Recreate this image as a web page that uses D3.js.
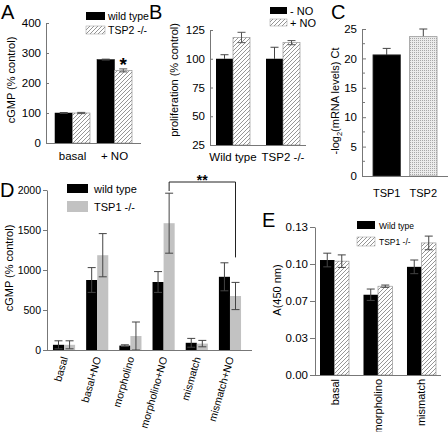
<!DOCTYPE html>
<html><head><meta charset="utf-8">
<script src="https://cdn.jsdelivr.net/npm/d3@7"></script>
<style>body{margin:0;background:#fff}svg{display:block}text{font-family:"Liberation Sans",Arial,sans-serif}</style>
</head><body>
<script>
// ---- Panel A ----
const catsA = ["basal", "+ NO"];
const aWild = [100, 278];
const aWildErr = [1.5, 1.5];
const aTsp2 = [100, 242];
const aTsp2Err = [2, 5];
const ticksA = [0, 100, 200, 300, 400];
// ---- Panel B ----
const catsB = ["Wild type", "TSP2 -/-"];
const bMinusNO = [100, 100];
const bMinusErr = [3.5, 10];
const bPlusNO = [118.5, 114];
const bPlusErr = [4.5, 1.8];
const ticksB = [25, 50, 75, 100, 125];
// ---- Panel C ----
const catsC = ["TSP1", "TSP2"];
const cVals = [20.6, 23.7];
const cErr = [1.1, 1.3];
const ticksC = [0, 5, 10, 15, 20, 25];
const minorC = [2.5, 7.5, 12.5, 17.5, 22.5];
// ---- Panel D ----
const catsD = ["basal", "basal+NO", "morpholino", "morpholino+NO", "mismatch", "mismatch+NO"];
const dWild = [65, 875, 55, 850, 90, 915];
const dWildErr = [50, 155, 10, 130, 55, 175];
const dTsp1 = [65, 1185, 175, 1585, 80, 675];
const dTsp1Err = [50, 270, 175, 375, 40, 170];
const ticksD = [0, 500, 1000, 1500, 2000];
// ---- Panel E ----
const catsE = ["basal", "morpholino", "mismatch"];
const eWild = [0.101, 0.0705, 0.095];
const eWildErr = [0.006, 0.005, 0.006];
const eTsp1 = [0.100, 0.078, 0.116];
const eTsp1Err = [0.0055, 0.001, 0.006];
const ticksE = [0, 0.0325, 0.065, 0.0975, 0.13];

const svg = d3.select("body").append("svg").attr("width", 448).attr("height", 432);
const defs = svg.append("defs");
const hatch = defs.append("pattern").attr("id", "hatch").attr("patternUnits", "userSpaceOnUse")
  .attr("width", 4).attr("height", 4);
hatch.append("rect").attr("width", 4).attr("height", 4).attr("fill", "#fff");
hatch.append("path").attr("d", "M-1,1 l2,-2 M0,4 l4,-4 M3,5 l2,-2").attr("stroke", "#7a7a7a").attr("stroke-width", 0.8);
const dots = defs.append("pattern").attr("id", "dots").attr("patternUnits", "userSpaceOnUse")
  .attr("width", 2).attr("height", 2);
dots.append("rect").attr("width", 2).attr("height", 2).attr("fill", "#ececec");
dots.append("rect").attr("width", 1).attr("height", 1).attr("fill", "#a8a8a8");

const AX = "#777";
const FONT = 11.5;
const LFONT = 11;

function styleAxis(g, fs) {
  g.select(".domain").attr("stroke", AX);
  g.selectAll(".tick line").attr("stroke", AX);
  g.selectAll(".tick text").attr("fill", "#000").attr("font-size", fs || FONT)
    .attr("font-family", "Liberation Sans, Arial, sans-serif");
}

function errBar(g, cx, yScale, v, e, upOnly, color) {
  const top = yScale(v + e), bot = upOnly ? yScale(v) : yScale(v - e);
  g.append("line").attr("x1", cx).attr("x2", cx).attr("y1", top).attr("y2", bot).attr("stroke", color).attr("stroke-width", 1);
  g.append("line").attr("x1", cx - 4).attr("x2", cx + 4).attr("y1", top).attr("y2", top).attr("stroke", color).attr("stroke-width", 1);
  if (!upOnly) g.append("line").attr("x1", cx - 4).attr("x2", cx + 4).attr("y1", bot).attr("y2", bot).attr("stroke", color).attr("stroke-width", 1);
}

function panelLetter(t, x, y, size) {
  svg.append("text").attr("x", x).attr("y", y).attr("font-size", size || 20).text(t);
}
function yLabel(x, y, txt, size) {
  return svg.append("text").attr("transform", `translate(${x},${y}) rotate(-90)`)
    .attr("text-anchor", "middle").attr("font-size", size || LFONT).text(txt);
}

// ================= Panel A =================
{
  const x0 = d3.scaleBand().domain(catsA).range([46, 141]).paddingInner(0.167).paddingOuter(0.214);
  const x1 = d3.scaleBand().domain(["wt", "ko"]).range([0, x0.bandwidth()]);
  const y = d3.scaleLinear().domain([0, 400]).range([143, 23]);
  const g = svg.append("g");
  catsA.forEach((c, i) => {
    const bx = x0(c);
    g.append("rect").attr("x", bx + x1("wt")).attr("y", y(aWild[i])).attr("width", x1.bandwidth())
      .attr("height", y(0) - y(aWild[i])).attr("fill", "#000").attr("stroke", "#000").attr("stroke-width", 0.5);
    g.append("rect").attr("x", bx + x1("ko")).attr("y", y(aTsp2[i])).attr("width", x1.bandwidth())
      .attr("height", y(0) - y(aTsp2[i])).attr("fill", "url(#hatch)").attr("stroke", "#888").attr("stroke-width", 0.6);
    errBar(g, bx + x1("wt") + x1.bandwidth() / 2, y, aWild[i], aWildErr[i], false, "#444");
    errBar(g, bx + x1("ko") + x1.bandwidth() / 2, y, aTsp2[i], aTsp2Err[i], false, "#555");
  });
  const ya = svg.append("g").attr("transform", "translate(46,0)")
    .call(d3.axisLeft(y).tickValues(ticksA).tickFormat(d3.format("d")).tickSizeInner(-3).tickSizeOuter(0).tickPadding(5));
  styleAxis(ya);
  svg.append("line").attr("x1", 46).attr("x2", 141).attr("y1", 143.5).attr("y2", 143.5).attr("stroke", AX);
  catsA.forEach(c => svg.append("text").attr("x", x0(c) + x0.bandwidth() / 2).attr("y", 160)
    .attr("text-anchor", "middle").attr("font-size", FONT).text(c));
  svg.append("text").attr("x", x0("+ NO") + x1("ko") + x1.bandwidth() / 2).attr("y", y(aTsp2[1] + aTsp2Err[1]) + 2)
    .attr("text-anchor", "middle").attr("font-size", 19).attr("font-weight", "bold").text("*");
  // legend
  svg.append("rect").attr("x", 86).attr("y", 12).attr("width", 19).attr("height", 8).attr("fill", "#000");
  svg.append("text").attr("x", 108).attr("y", 20).attr("font-size", 10.5).text("wild type");
  svg.append("rect").attr("x", 86).attr("y", 26).attr("width", 19).attr("height", 8).attr("fill", "url(#hatch)").attr("stroke", "#999").attr("stroke-width", 0.5);
  svg.append("text").attr("x", 108).attr("y", 34).attr("font-size", 10.5).text("TSP2 -/-");
  yLabel(15, 80, "cGMP (% control)");
  panelLetter("A", 1, 19);
}

// ================= Panel B =================
{
  const x0 = d3.scaleBand().domain(catsB).range([210, 306]).paddingInner(0.32).paddingOuter(0.12);
  const x1 = d3.scaleBand().domain(["m", "p"]).range([0, x0.bandwidth()]);
  const y = d3.scaleLinear().domain([25, 125]).range([145, 30]);
  const g = svg.append("g");
  catsB.forEach((c, i) => {
    const bx = x0(c);
    errBar(g, bx + x1("m") + x1.bandwidth() / 2, y, bMinusNO[i], bMinusErr[i], true, "#444");
    g.append("rect").attr("x", bx + x1("m")).attr("y", y(bMinusNO[i])).attr("width", x1.bandwidth())
      .attr("height", y(25) - y(bMinusNO[i])).attr("fill", "#000");
    g.append("rect").attr("x", bx + x1("p")).attr("y", y(bPlusNO[i])).attr("width", x1.bandwidth())
      .attr("height", y(25) - y(bPlusNO[i])).attr("fill", "url(#hatch)").attr("stroke", "#888").attr("stroke-width", 0.6);
    errBar(g, bx + x1("p") + x1.bandwidth() / 2, y, bPlusNO[i], bPlusErr[i], false, "#555");
  });
  const ya = svg.append("g").attr("transform", "translate(210,0)")
    .call(d3.axisLeft(y).tickValues(ticksB).tickFormat(d3.format("d")).tickSizeInner(-3).tickSizeOuter(0).tickPadding(5));
  styleAxis(ya);
  svg.append("line").attr("x1", 210).attr("x2", 306).attr("y1", 145.5).attr("y2", 145.5).attr("stroke", AX);
  catsB.forEach(c => svg.append("text").attr("x", x0(c) + x0.bandwidth() / 2).attr("y", 161)
    .attr("text-anchor", "middle").attr("font-size", FONT).text(c));
  svg.append("rect").attr("x", 270).attr("y", 7).attr("width", 17).attr("height", 7).attr("fill", "#000");
  svg.append("text").attr("x", 290).attr("y", 15).attr("font-size", LFONT).text("- NO");
  svg.append("rect").attr("x", 270).attr("y", 19).attr("width", 17).attr("height", 7).attr("fill", "url(#hatch)").attr("stroke", "#999").attr("stroke-width", 0.5);
  svg.append("text").attr("x", 290).attr("y", 27).attr("font-size", LFONT).text("+ NO");
  yLabel(178, 80, "proliferation (% control)");
  panelLetter("B", 149, 19);
}

// ================= Panel C =================
{
  const x = d3.scaleBand().domain(catsC).range([362, 448]).paddingInner(0.25).paddingOuter(0.3);
  const y = d3.scaleLinear().domain([0, 25]).range([176, 29]);
  const g = svg.append("g");
  catsC.forEach((c, i) => {
    errBar(g, x(c) + x.bandwidth() / 2, y, cVals[i], cErr[i], true, "#444");
    g.append("rect").attr("x", x(c)).attr("y", y(cVals[i])).attr("width", x.bandwidth())
      .attr("height", y(0) - y(cVals[i])).attr("fill", i === 0 ? "#000" : "url(#dots)")
      .attr("stroke", i === 0 ? "#333" : "#999").attr("stroke-width", 0.8);
  });
  const ya = svg.append("g").attr("transform", "translate(362,0)")
    .call(d3.axisLeft(y).tickValues(ticksC).tickFormat(d3.format("d")).tickSizeInner(-4).tickSizeOuter(0).tickPadding(5));
  styleAxis(ya);
  minorC.forEach(v => svg.append("line").attr("x1", 362).attr("x2", 365).attr("y1", y(v)).attr("y2", y(v)).attr("stroke", AX));
  svg.append("line").attr("x1", 362).attr("x2", 448).attr("y1", 176.5).attr("y2", 176.5).attr("stroke", AX);
  catsC.forEach(c => svg.append("text").attr("x", x(c) + x.bandwidth() / 2).attr("y", 197)
    .attr("text-anchor", "middle").attr("font-size", 11).text(c));
  const t = svg.append("text").attr("transform", "translate(339,101) rotate(-90)").attr("text-anchor", "middle").attr("font-size", LFONT);
  t.append("tspan").text("-log");
  t.append("tspan").attr("font-size", 7.5).attr("dy", 3).text("2");
  t.append("tspan").attr("dy", -3).text("(mRNA levels) Ct");
  panelLetter("C", 331, 19);
}

// ================= Panel D =================
{
  const AXD = 47;
  const x0 = d3.scaleBand().domain(catsD).range([44, 250]).paddingInner(0.333).paddingOuter(0.27);
  const x1 = d3.scaleBand().domain(["wt", "ko"]).range([0, x0.bandwidth()]);
  const y = d3.scaleLinear().domain([0, 2000]).range([350, 190]);
  const g = svg.append("g");
  catsD.forEach((c, i) => {
    const bx = x0(c);
    g.append("rect").attr("x", bx + x1("wt")).attr("y", y(dWild[i])).attr("width", x1.bandwidth())
      .attr("height", y(0) - y(dWild[i])).attr("fill", "#000");
    g.append("rect").attr("x", bx + x1("ko")).attr("y", y(dTsp1[i])).attr("width", x1.bandwidth())
      .attr("height", y(0) - y(dTsp1[i])).attr("fill", "#c2c2c2");
    errBar(g, bx + x1("wt") + x1.bandwidth() / 2, y, dWild[i], dWildErr[i], false, "#444");
    errBar(g, bx + x1("ko") + x1.bandwidth() / 2, y, dTsp1[i], dTsp1Err[i], false, "#444");
  });
  const ya = svg.append("g").attr("transform", `translate(${AXD},0)`)
    .call(d3.axisLeft(y).tickValues(ticksD).tickFormat(d3.format("d")).tickSizeInner(4).tickSizeOuter(0).tickPadding(2));
  styleAxis(ya, 10.5);
  svg.append("line").attr("x1", AXD).attr("x2", 252).attr("y1", 350.5).attr("y2", 350.5).attr("stroke", AX);
  catsD.forEach(c => svg.append("text")
    .attr("transform", `translate(${x0(c) + x0.bandwidth() / 2 + 4},${358}) rotate(-74)`)
    .attr("text-anchor", "end").attr("font-size", 10.5).text(c));
  // significance bracket
  const lx = x0("morpholino+NO") + x1("ko") + x1.bandwidth() / 2;
  const rx = x0("mismatch+NO") + x1("ko") + x1.bandwidth() / 2;
  svg.append("path").attr("d", `M${lx},${191} V182 H${rx} V${y(dTsp1[5] + dTsp1Err[5]) - 25}`)
    .attr("fill", "none").attr("stroke", "#222").attr("stroke-width", 1);
  svg.append("text").attr("x", (lx + rx) / 2).attr("y", 185).attr("text-anchor", "middle")
    .attr("font-size", 14).attr("font-weight", "bold").text("**");
  svg.append("rect").attr("x", 67).attr("y", 184).attr("width", 21).attr("height", 9).attr("fill", "#000");
  svg.append("text").attr("x", 94).attr("y", 193).attr("font-size", LFONT).text("wild type");
  svg.append("rect").attr("x", 67).attr("y", 201).attr("width", 21).attr("height", 11).attr("fill", "#c2c2c2");
  svg.append("text").attr("x", 94).attr("y", 211).attr("font-size", LFONT).text("TSP1 -/-");
  yLabel(13, 268, "cGMP (% control)");
  panelLetter("D", 0, 197);
}

// ================= Panel E =================
{
  const x0 = d3.scaleBand().domain(catsE).range([315, 441]).paddingInner(0.333).paddingOuter(0.115);
  const x1 = d3.scaleBand().domain(["wt", "ko"]).range([0, x0.bandwidth()]);
  const y = d3.scaleLinear().domain([0, 0.13]).range([375, 227]);
  const g = svg.append("g");
  catsE.forEach((c, i) => {
    const bx = x0(c);
    g.append("rect").attr("x", bx + x1("wt")).attr("y", y(eWild[i])).attr("width", x1.bandwidth())
      .attr("height", y(0) - y(eWild[i])).attr("fill", "#000");
    g.append("rect").attr("x", bx + x1("ko")).attr("y", y(eTsp1[i])).attr("width", x1.bandwidth())
      .attr("height", y(0) - y(eTsp1[i])).attr("fill", "url(#hatch)").attr("stroke", "#888").attr("stroke-width", 0.6);
    errBar(g, bx + x1("wt") + x1.bandwidth() / 2, y, eWild[i], eWildErr[i], false, "#444");
    errBar(g, bx + x1("ko") + x1.bandwidth() / 2, y, eTsp1[i], eTsp1Err[i], false, "#444");
  });
  const ya = svg.append("g").attr("transform", "translate(315,0)")
    .call(d3.axisLeft(y).tickValues(ticksE).tickFormat(d3.format(".2f")).tickSizeInner(5).tickSizeOuter(0).tickPadding(2));
  styleAxis(ya);
  svg.append("line").attr("x1", 315).attr("x2", 441).attr("y1", 375.5).attr("y2", 375.5).attr("stroke", AX);
  catsE.forEach(c => svg.append("text")
    .attr("transform", `translate(${x0(c) + x0.bandwidth() / 2 + 4},${379}) rotate(-90)`)
    .attr("text-anchor", "end").attr("font-size", LFONT).text(c));
  svg.append("rect").attr("x", 357).attr("y", 221).attr("width", 18).attr("height", 8).attr("fill", "#000");
  svg.append("text").attr("x", 379).attr("y", 229).attr("font-size", 8.5).text("Wild type");
  svg.append("rect").attr("x", 357).attr("y", 237).attr("width", 18).attr("height", 9).attr("fill", "url(#hatch)").attr("stroke", "#999").attr("stroke-width", 0.5);
  svg.append("text").attr("x", 379).attr("y", 245).attr("font-size", 8.5).text("TSP1 -/-");
  yLabel(281, 290, "A(450 nm)");
  panelLetter("E", 262, 227);
}
</script>
</body></html>
